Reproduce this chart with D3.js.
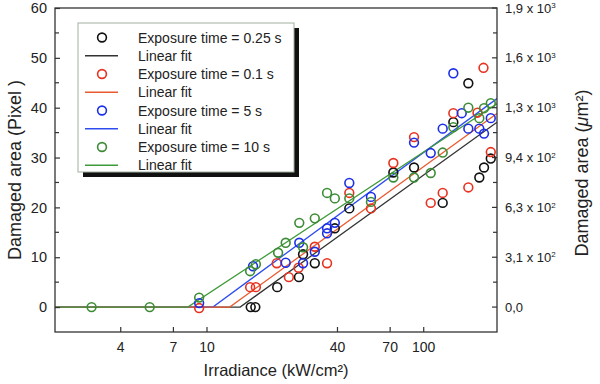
<!DOCTYPE html>
<html>
<head>
<meta charset="utf-8">
<script src="https://cdn.jsdelivr.net/npm/d3@7"></script>
<style>
  body { margin: 0; background: #fff; }
  text { font-family: "Liberation Sans", Arial, sans-serif; fill: #222; }
</style>
</head>
<body>
<div class="chart"></div>
<script>
// data: irradiance (kW/cm2) and damaged area (pixel)
var blackX = [16.0, 16.8, 21.2, 26.7, 27.9, 31.6, 39.1, 45.6, 72.8, 90.7, 123, 137.7, 161.5, 181.5, 190.8, 205];
var blackY = [0, 0, 4.0, 6.0, 10.6, 8.8, 15.8, 19.8, 27.0, 28.0, 20.9, 37.1, 44.9, 26.0, 28.0, 29.8];

var redX = [9.25, 15.9, 16.9, 21.1, 24.0, 26.6, 31.6, 36.0, 45.6, 57.4, 72.8, 90.7, 108.3, 123, 137.7, 161.5, 178, 189.7, 205];
var redY = [-0.2, 4.0, 4.0, 8.8, 6.0, 7.9, 12.1, 8.8, 22.9, 19.8, 28.9, 34.1, 20.9, 22.9, 38.9, 24.0, 39.0, 48.0, 31.1];

var blueX = [9.25, 16.4, 23.2, 26.8, 27.9, 31.6, 36.0, 36.0, 39.1, 45.6, 57.4, 90.7, 108.3, 123, 137.7, 150.6, 161.5, 181.5, 190.8, 205];
var blueY = [0.8, 8.2, 8.9, 12.9, 8.8, 11.1, 15.8, 14.8, 16.9, 24.9, 22.1, 33.0, 30.9, 35.8, 46.9, 38.9, 35.8, 35.8, 34.8, 37.9];

var greenX = [2.95, 5.47, 9.25, 15.9, 16.9, 21.4, 23.2, 26.8, 27.9, 31.6, 36.0, 39.1, 45.6, 57.4, 72.8, 90.7, 108.3, 123, 137.7, 161.5, 181.5, 190.8, 205];
var greenY = [0, 0, 1.9, 7.2, 8.6, 10.9, 12.9, 16.9, 12.0, 17.8, 22.9, 21.8, 21.8, 21.1, 26.0, 26.0, 26.9, 31.0, 36.1, 40.0, 37.9, 39.9, 40.9];

// linear fit (area vs log10 irradiance), zero below threshold
var fitX0 = [14.3, 12.8, 10.7, 8.2];
var fitSlope = [31.3, 31.5, 31.9, 28.6];

var seriesNames = ["Exposure time = 0.25 s", "Exposure time = 0.1 s", "Exposure time = 5 s", "Exposure time = 10 s"];
var xTicks = [4, 7, 10, 40, 70, 100];
var yTicks = [0, 10, 20, 30, 40, 50, 60];
var yMinor = [5, 15, 25, 35, 45, 55];
var rightLabels = [["0,0", ""], ["3,1 x 10", "2"], ["6,3 x 10", "2"], ["9,4 x 10", "2"], ["1,3 x 10", "3"], ["1,6 x 10", "3"], ["1,9 x 10", "3"]];

var pointColors = ["#111111", "#e8311f", "#1c2fe6", "#3b8c35"];
var lineColors = ["#333333", "#ea5a30", "#2f4ef0", "#3f9a3a"];

var series = [
  { x: blackX, y: blackY },
  { x: redX, y: redY },
  { x: blueX, y: blueY },
  { x: greenX, y: greenY }
];

var svgWidth = 600;
var svgHeight = 384;
var margin = { top: 8, right: 103, bottom: 52, left: 55 };
var width = svgWidth - margin.left - margin.right;
var height = svgHeight - margin.top - margin.bottom;

var svg = d3.select(".chart")
  .append("svg")
  .attr("width", svgWidth)
  .attr("height", svgHeight);

var chartGroup = svg.append("g")
  .attr("transform", `translate(${margin.left}, ${margin.top})`);

var xScale = d3.scaleLog().domain([2, 219]).range([0, width]);
var yScale = d3.scaleLinear().domain([-5, 60]).range([height, 0]);

// clip for fit lines
chartGroup.append("clipPath").attr("id", "plotclip")
  .append("rect").attr("width", width).attr("height", height);

// fit lines (order: black, blue, red, green so green sits on top)
var lineGen = d3.line()
  .x(d => xScale(d[0]))
  .y(d => yScale(d[1]));

[0, 2, 1, 3].forEach(function(i) {
  var xs = [2, fitX0[i], 219];
  var pts = xs.map(x => [x, Math.max(0, fitSlope[i] * Math.log10(x / fitX0[i]))]);
  chartGroup.append("path")
    .attr("clip-path", "url(#plotclip)")
    .attr("d", lineGen(pts))
    .attr("fill", "none")
    .attr("stroke", lineColors[i])
    .attr("stroke-width", 1.3);
});

// points
series.forEach(function(s, i) {
  chartGroup.append("g")
    .selectAll("circle")
    .data(s.x.map((x, j) => [x, s.y[j]]))
    .enter()
    .append("circle")
    .attr("cx", d => xScale(d[0]))
    .attr("cy", d => yScale(d[1]))
    .attr("r", 4.4)
    .attr("fill", "none")
    .attr("stroke", pointColors[i])
    .attr("stroke-width", 1.6);
});

// frame
chartGroup.append("rect")
  .attr("width", width)
  .attr("height", height)
  .attr("fill", "none")
  .attr("stroke", "#333")
  .attr("stroke-width", 1.3);

// bottom axis, ticks inward
var bottomAxis = d3.axisBottom(xScale)
  .tickValues(xTicks)
  .tickFormat(d3.format("d"))
  .tickSizeInner(-5)
  .tickSizeOuter(0)
  .tickPadding(10);
var xAxis = chartGroup.append("g")
  .attr("transform", `translate(0, ${height})`)
  .call(bottomAxis);
xAxis.select(".domain").remove();
xAxis.selectAll("text").attr("font-size", "14px").attr("font-family", "Liberation Sans, Arial, sans-serif").attr("fill", "#222");
xAxis.selectAll("line").attr("stroke", "#333").attr("stroke-width", 1.2);

// left axis
var leftAxis = d3.axisLeft(yScale)
  .tickValues(yTicks)
  .tickSizeInner(-5)
  .tickSizeOuter(0)
  .tickPadding(8);
var yAxis = chartGroup.append("g").call(leftAxis);
yAxis.select(".domain").remove();
yAxis.selectAll("text").attr("font-size", "14.5px").attr("font-family", "Liberation Sans, Arial, sans-serif").attr("fill", "#222");
yAxis.selectAll("line").attr("stroke", "#333").attr("stroke-width", 1.2);

// minor ticks both sides
chartGroup.append("g").selectAll("line")
  .data(yMinor)
  .enter().append("line")
  .attr("x1", 0).attr("x2", 4)
  .attr("y1", d => yScale(d)).attr("y2", d => yScale(d))
  .attr("stroke", "#333").attr("stroke-width", 1.2);
chartGroup.append("g").selectAll("line")
  .data(yMinor)
  .enter().append("line")
  .attr("x1", width - 4).attr("x2", width)
  .attr("y1", d => yScale(d)).attr("y2", d => yScale(d))
  .attr("stroke", "#333").attr("stroke-width", 1.2);

// right axis with µm2 labels
var rightGroup = chartGroup.append("g").attr("transform", `translate(${width}, 0)`);
rightGroup.selectAll("line")
  .data(yTicks)
  .enter().append("line")
  .attr("x1", -5).attr("x2", 0)
  .attr("y1", d => yScale(d)).attr("y2", d => yScale(d))
  .attr("stroke", "#333").attr("stroke-width", 1.2);
var rText = rightGroup.selectAll("text")
  .data(yTicks)
  .enter().append("text")
  .attr("x", 8)
  .attr("y", d => yScale(d))
  .attr("dy", "0.35em")
  .attr("font-size", "13px");
rText.append("tspan").text((d, i) => rightLabels[i][0]);
rText.append("tspan")
  .attr("dy", "-0.55em")
  .attr("font-size", "8px")
  .text((d, i) => rightLabels[i][1]);

// axis titles
svg.append("text")
  .attr("transform", `translate(${margin.left + width / 2}, 372)`)
  .attr("text-anchor", "middle")
  .attr("dominant-baseline", "middle")
  .attr("font-size", "16.5px")
  .text("Irradiance (kW/cm²)");

svg.append("text")
  .attr("transform", "translate(16, 170) rotate(-90)")
  .attr("text-anchor", "middle")
  .attr("dominant-baseline", "middle")
  .attr("font-size", "18px")
  .text("Damaged area  (Pixel )");

var rTitle = svg.append("text")
  .attr("transform", "translate(583, 173) rotate(-90)")
  .attr("text-anchor", "middle")
  .attr("dominant-baseline", "middle")
  .attr("font-size", "18px");
rTitle.append("tspan").text("Damaged area (");
rTitle.append("tspan").attr("font-style", "italic").text("μ");
rTitle.append("tspan").text("m²)");

// legend box with shadow
var legend = svg.append("g").attr("transform", "translate(78, 23)");
legend.append("rect")
  .attr("x", 5).attr("y", 5)
  .attr("width", 216).attr("height", 149)
  .attr("fill", "#111");
legend.append("rect")
  .attr("width", 216).attr("height", 149)
  .attr("fill", "#fff")
  .attr("stroke", "#9fb09f")
  .attr("stroke-width", 1);

seriesNames.forEach(function(name, i) {
  var yPt = 14.5 + i * 36.5;
  var yLn = yPt + 18.2;
  legend.append("circle")
    .attr("cx", 24).attr("cy", yPt).attr("r", 4.4)
    .attr("fill", "none").attr("stroke", pointColors[i]).attr("stroke-width", 1.6);
  legend.append("text")
    .attr("x", 60).attr("y", yPt).attr("dy", "0.36em")
    .attr("font-size", "14px").text(name);
  legend.append("line")
    .attr("x1", 7).attr("x2", 40).attr("y1", yLn).attr("y2", yLn)
    .attr("stroke", lineColors[i]).attr("stroke-width", 1.5);
  legend.append("text")
    .attr("x", 60).attr("y", yLn).attr("dy", "0.36em")
    .attr("font-size", "14px").text("Linear fit");
});
</script>
</body>
</html>
